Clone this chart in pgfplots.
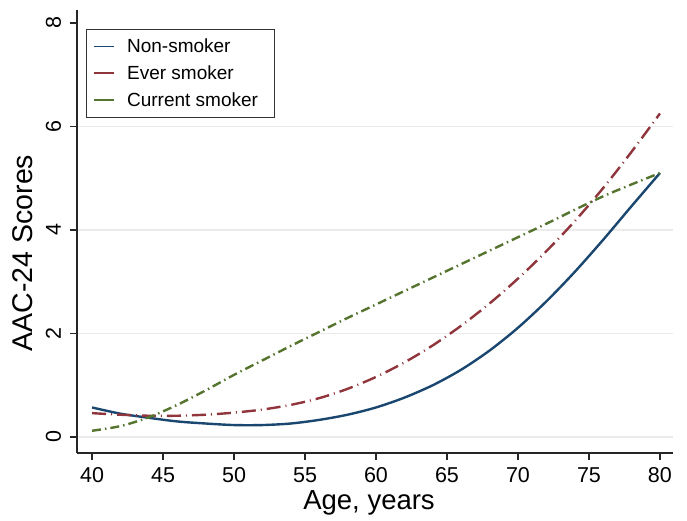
\documentclass[border=0pt]{standalone}
\usepackage{fontspec}
\setmainfont{Liberation Sans}
\usepackage{pgfplots}
\pgfplotsset{compat=1.18}
\definecolor{snavy}{RGB}{26,71,111}
\definecolor{smaroon}{RGB}{144,53,59}
\definecolor{sgreen}{RGB}{85,117,47}
\begin{document}
\begin{tikzpicture}[x=1pt,y=1pt]
\useasboundingbox (0,0) rectangle (687,520);
\begin{axis}[
  at={(77pt,67pt)}, anchor=south west,
  width=596pt, height=443pt, scale only axis,
  xmin=38.94, xmax=80.92, ymin=-0.31, ymax=8.25,
  axis lines*=left,
  axis line style={line width=1.2pt, color=black!85, -},
  xtick={40,45,...,80}, ytick={0,2,4,6},
  extra y ticks={8}, extra y tick style={grid=none},
  tick align=outside, major tick length=7pt,
  tick style={line width=1.2pt, color=black!85},
  ymajorgrids, grid style={line width=1.5pt, color=black!8},
  /pgf/number format/assume math mode=true,
  ticklabel style={font=\fontsize{21.5}{24}\selectfont, text=black},
  xticklabel style={anchor=base, yshift=-22pt},
  yticklabel style={xshift=-9pt, rotate=90, anchor=base},
  xlabel={Age, years},
  ylabel={AAC-24 Scores},
  xlabel style={font=\fontsize{27.5}{30}\selectfont, at={(axis description cs:0.49,-0.1129)}, anchor=center},
  ylabel style={font=\fontsize{28.5}{30}\selectfont, at={(axis description cs:-0.0906,0.4515)}, anchor=center},
  legend style={at={(axis description cs:0.0151,0.9571)}, anchor=north west,
    font=\fontsize{19}{22}\selectfont, draw=black!80, line width=0.8pt,
    inner xsep=7pt, inner ysep=7.5pt, row sep=7.5pt, column sep=10pt},
  legend cell align=left,
  legend image code/.code={\draw[#1] (0pt,0pt) -- (20pt,0pt);},
]
\addlegendimage{snavy, solid, line width=1.7pt}
\addlegendentry{Non-smoker}
\addlegendimage{smaroon, solid, line width=1.7pt}
\addlegendentry{Ever smoker}
\addlegendimage{sgreen, solid, line width=1.7pt}
\addlegendentry{Current smoker\hspace*{7pt}}
\addplot[forget plot, snavy, line width=2.4pt, smooth] coordinates {
(40,0.57) (42,0.45) (44,0.37) (46,0.30) (48,0.26) (50,0.23) (52,0.23) (54,0.26)
(56,0.33) (58,0.43) (60,0.57) (62,0.76) (64,1.00) (66,1.30) (68,1.67) (70,2.11)
(72,2.62) (74,3.19) (76,3.81) (78,4.46) (80,5.10)};
\addplot[forget plot, smaroon, line width=2.4pt, smooth, dash pattern=on 14pt off 5pt on 1pt off 5pt] coordinates {
(40,0.46) (42,0.43) (44,0.41) (46,0.41) (48,0.43) (50,0.47) (52,0.53) (54,0.62)
(56,0.75) (58,0.93) (60,1.16) (62,1.44) (64,1.77) (66,2.15) (68,2.58) (70,3.06)
(72,3.59) (74,4.17) (76,4.81) (78,5.51) (80,6.25)};
\addplot[forget plot, sgreen, line width=2.4pt, smooth, dash pattern=on 9pt off 4pt on 1.5pt off 4pt] coordinates {
(40,0.12) (42,0.21) (44,0.38) (46,0.62) (48,0.90) (50,1.20) (52,1.48) (54,1.76)
(56,2.03) (58,2.30) (60,2.56) (62,2.82) (64,3.08) (66,3.34) (68,3.60) (70,3.86)
(72,4.12) (74,4.39) (76,4.65) (78,4.88) (80,5.10)};
\end{axis}
\end{tikzpicture}
\end{document}
